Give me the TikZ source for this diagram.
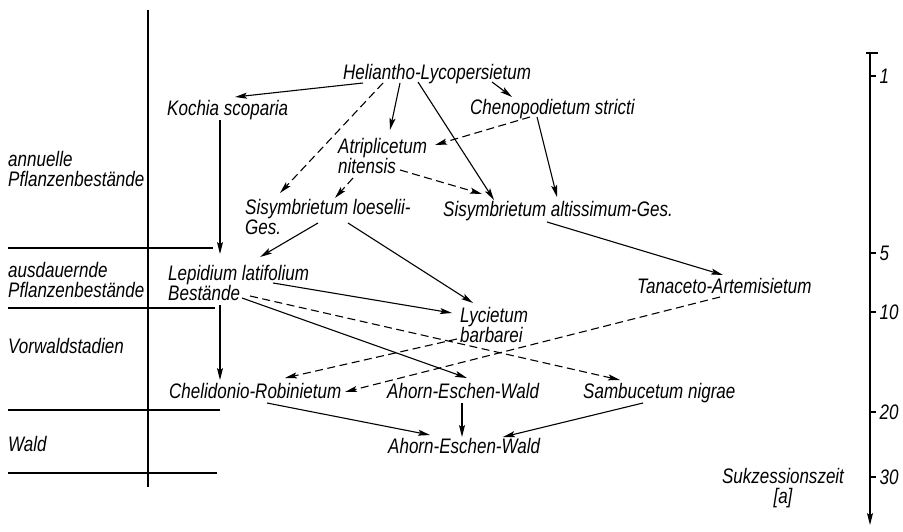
\documentclass[tikz,border=0pt]{standalone}
\usepackage{fontspec}
\setmainfont{Liberation Sans}[FakeStretch=0.81]
\usetikzlibrary{arrows.meta,calc}

\begin{document}
\begin{tikzpicture}[x=1pt, y=-1pt,
    veg/.style={inner sep=0pt, anchor=base west, align=left,
        font=\itshape\fontsize{21}{20}\selectfont},
    zahl/.style={veg},
    pfeil/.style={line width=1.1pt, -{Stealth[length=12pt, width=6pt, inset=2.5pt]}},
    pfeil_d/.style={pfeil, dash pattern=on 8pt off 4.5pt},
    linie/.style={line width=1.1pt}]
    \useasboundingbox (0,0) rectangle (903,532);

    % Raster links
    \draw[linie] (148,10) -- (148,487);
    \draw[linie] (8,248) -- (213,248);
    \draw[linie] (8,308) -- (215,308);
    \draw[linie] (8,410) -- (220,410);
    \draw[linie] (8,473) -- (217,473);
    \node[veg] (z_annuell) at (8,186) {annuelle\\Pflanzenbestände};
    \node[veg] (z_ausdauer) at (8,297) {ausdauernde\\Pflanzenbestände};
    \node[veg] (z_vorwald) at (8,353) {Vorwaldstadien};
    \node[veg] (z_wald) at (8,451) {Wald};

    % Gesellschaften (zweizeilige: Lage = zweite Grundlinie)
    \node[veg] (helianth) at (343,80) {Heliantho-Lycopersietum};
    \node[veg] (kochia) at (167,116) {Kochia scoparia};
    \node[veg] (cheno) at (470,115) {Chenopodietum stricti};
    \node[veg] (atripl) at (338,174) {Atriplicetum\\nitensis};
    \node[veg] (sis_loes) at (245,234) {Sisymbrietum loeselii-\\Ges.};
    \node[veg] (sis_alt) at (443,216) {Sisymbrietum altissimum-Ges.};
    \node[veg] (lepid) at (168,300) {Lepidium latifolium\\Bestände};
    \node[veg] (tanac) at (637,293) {Tanaceto-Artemisietum};
    \node[veg] (lyc) at (460,342) {Lycietum\\barbarei};
    \node[veg] (chelid) at (169,398) {Chelidonio-Robinietum};
    \node[veg] (ahorn_a) at (387,398) {Ahorn-Eschen-Wald};
    \node[veg] (sambu) at (583,398) {Sambucetum nigrae};
    \node[veg] (ahorn_b) at (388,453) {Ahorn-Eschen-Wald};

    % Pfeile
    \draw[pfeil] ($(helianth.base west)+(20,3)$) -- ($(kochia.base west)+(68,-19)$);
    \draw[pfeil_d] ($(helianth.base west)+(40,3)$) -- ($(sis_loes.base west)+(35,-41)$);
    \draw[pfeil] ($(helianth.base west)+(57,3)$) -- ($(atripl.base west)+(52,-44)$);
    \draw[pfeil] ($(helianth.base west)+(75,2)$) -- ($(sis_alt.base west)+(51,-16)$);
    \draw[pfeil] ($(helianth.base west)+(149,2)$) -- ($(cheno.base west)+(42,-18)$);
    \draw[pfeil_d] ($(cheno.base west)+(60,2)$) -- ($(atripl.base west)+(97,-29)$);
    \draw[pfeil] ($(cheno.base west)+(67,2)$) -- ($(sis_alt.base west)+(114,-19)$);
    \draw[pfeil_d] ($(atripl.base west)+(62,-4)$) -- ($(sis_alt.base west)+(39,-22)$);
    \draw[pfeil_d] ($(atripl.base west)+(15,4)$) -- ($(sis_loes.base west)+(90,-36)$);
    \draw[pfeil] ($(kochia.base west)+(53,4)$) -- ($(lepid.base west)+(52,-46)$);
    \draw[pfeil] ($(sis_loes.base west)+(73,-11)$) -- ($(lepid.base west)+(92,-43)$);
    \draw[pfeil] ($(sis_loes.base west)+(103,-11)$) -- ($(lyc.base west)+(13,-39)$);
    \draw[pfeil] ($(sis_alt.base west)+(104,6)$) -- ($(tanac.base west)+(86,-18)$);
    \draw[pfeil] ($(lepid.base west)+(105,-17)$) -- ($(lyc.base west)+(-8,-29)$);
    \draw[pfeil] ($(lepid.base west)+(74,-2)$) -- ($(ahorn_a.base west)+(80,-20)$);
    \draw[pfeil_d] ($(lepid.base west)+(82,-4)$) -- ($(sambu.base west)+(37,-18)$);
    \draw[pfeil] ($(lepid.base west)+(52,5)$) -- ($(chelid.base west)+(51,-18)$);
    \draw[pfeil_d] ($(lyc.base west)+(-3,-3)$) -- ($(chelid.base west)+(116,-20)$);
    \draw[pfeil_d] ($(tanac.base west)+(83,4)$) -- ($(chelid.base west)+(176,-6)$);
    \draw[pfeil] ($(chelid.base west)+(98,5)$) -- ($(ahorn_b.base west)+(42,-18)$);
    \draw[pfeil] ($(ahorn_a.base west)+(75,5)$) -- ($(ahorn_b.base west)+(74,-16)$);
    \draw[pfeil] ($(sambu.base west)+(60,5)$) -- ($(ahorn_b.base west)+(115,-16)$);

    % Zeitachse
    \coordinate (achse_o) at (870,53);
    \coordinate (achse_u) at (870,525);
    \draw[pfeil] (achse_o) -- (achse_u);
    \draw[linie] (866,53) -- (878,53);
    \foreach \y/\t in {76/1, 253/5, 312/10, 412/20, 477/30}
        \draw[linie] (870,\y) -- (876,\y) node[zahl, anchor=west, xshift=3pt] {\t};
    \node[veg, align=center, anchor=base] (sukz) at (783,503) {Sukzessionszeit\\{[a]}};
\end{tikzpicture}
\end{document}
